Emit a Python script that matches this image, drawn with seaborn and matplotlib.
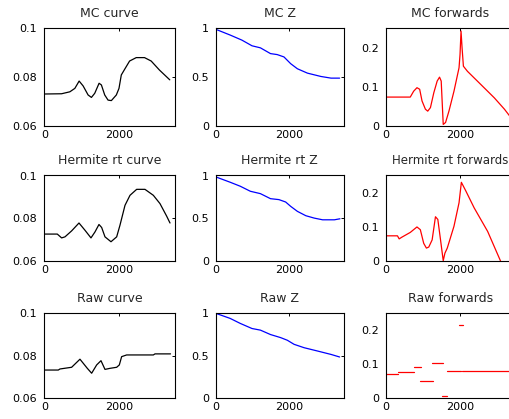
import matplotlib
matplotlib.use("Agg")
import numpy as np
import pandas as pd
import matplotlib.pyplot as plt
import seaborn as sns

# ==========================================
# DATA (dibaca dari gambar referensi)
# ==========================================
mc_curve_x = [0, 462, 684, 818, 933, 1040, 1173, 1262, 1351, 1467, 1529, 1618, 1707, 1796,
              1929, 2000, 2062, 2151, 2284, 2462, 2684, 2862, 3084, 3360]
mc_curve_y = [0.0731, 0.0732, 0.0740, 0.0754, 0.0784, 0.0764, 0.0727, 0.0717, 0.0734, 0.0775,
              0.0768, 0.0727, 0.0706, 0.0704, 0.0727, 0.0754, 0.0809, 0.0832, 0.0866, 0.0880,
              0.0880, 0.0866, 0.0829, 0.0789]

mc_z_x = [0, 394, 715, 990, 1220, 1495, 1678, 1862, 2045, 2228, 2503, 2870, 3146, 3380]
mc_z_y = [0.99, 0.931, 0.879, 0.821, 0.80, 0.741, 0.731, 0.707, 0.638, 0.586, 0.541, 0.507,
          0.49, 0.49]

mc_fwd_x = [0, 664, 755, 845, 918, 982, 1073, 1136, 1209, 1300, 1391, 1455, 1500, 1555, 1618,
            1709, 1845, 1982, 2009, 2036, 2064, 2100, 2209, 2573, 2936, 3209, 3380]
mc_fwd_y = [0.074, 0.074, 0.089, 0.098, 0.094, 0.064, 0.043, 0.038, 0.047, 0.085, 0.115, 0.125,
            0.115, 0.004, 0.009, 0.038, 0.089, 0.149, 0.183, 0.243, 0.200, 0.153, 0.140, 0.106,
            0.072, 0.043, 0.022]

herm_curve_x = [0, 348, 464, 554, 732, 929, 1089, 1250, 1357, 1464, 1536, 1625, 1786, 1938,
                2027, 2161, 2295, 2473, 2696, 2920, 3098, 3277, 3366]
herm_curve_y = [0.0725, 0.0725, 0.0707, 0.0712, 0.0740, 0.0777, 0.0743, 0.0707, 0.0735, 0.0770,
                0.0756, 0.0712, 0.0689, 0.0712, 0.0767, 0.0860, 0.0907, 0.0935, 0.0935, 0.0907,
                0.0868, 0.0809, 0.0777]

herm_z_x = [0, 394, 670, 945, 1220, 1495, 1725, 1908, 2045, 2229, 2459, 2688, 2917, 3238, 3390]
herm_z_y = [0.984, 0.921, 0.874, 0.815, 0.787, 0.728, 0.717, 0.689, 0.638, 0.579, 0.528, 0.50,
            0.48, 0.48, 0.492]

herm_fwd_x = [0, 318, 364, 436, 664, 845, 936, 1027, 1100, 1164, 1255, 1345, 1409, 1482, 1555,
              1600, 1664, 1845, 1982, 2045, 2164, 2391, 2755, 3100, 3380]
herm_fwd_y = [0.073, 0.073, 0.064, 0.069, 0.083, 0.099, 0.091, 0.051, 0.037, 0.040, 0.061, 0.129,
              0.121, 0.061, 0.0, 0.022, 0.037, 0.101, 0.170, 0.230, 0.205, 0.155, 0.086, 0.0,
              -0.07]

raw_curve_x = [0, 375, 420, 732, 955, 1152, 1268, 1402, 1518, 1625, 1759, 1938, 2009, 2071, 2205,
               2920, 2964, 3380]
raw_curve_y = [0.0733, 0.0733, 0.0738, 0.0746, 0.0784, 0.0741, 0.0718, 0.0757, 0.0777, 0.0736,
               0.0741, 0.0746, 0.0757, 0.0796, 0.0804, 0.0804, 0.0809, 0.0809]

raw_z_x = [0, 394, 670, 990, 1220, 1495, 1771, 1954, 2138, 2413, 2780, 3147, 3380]
raw_z_y = [1.0, 0.94, 0.881, 0.821, 0.802, 0.75, 0.714, 0.683, 0.635, 0.595, 0.556, 0.516, 0.486]

# segmen tangga "Raw forwards"
raw_fwd_start = [0, 345, 773, 936, 1254, 1527, 1664, 1982, 2073]
raw_fwd_end = [345, 773, 964, 1282, 1545, 1645, 2027, 2100, 3380]
raw_fwd_val = [0.072, 0.078, 0.092, 0.050, 0.105, 0.008, 0.080, 0.217, 0.080]

x_ticks = [0, 2000]
x_tick_labels = ['0', '2000']
curve_ticks = [0.06, 0.08, 0.1]
curve_tick_labels = ['0.06', '0.08', '0.1']
z_ticks = [0, 0.5, 1]
z_tick_labels = ['0', '0.5', '1']
fwd_ticks = [0, 0.1, 0.2]
fwd_tick_labels = ['0', '0.1', '0.2']

# ==========================================
# STYLE & LAYOUT
# ==========================================
sns.set_style("white")
plt.rcParams['font.family'] = ['DejaVu Sans']

W, H = 510, 419
fig = plt.figure(figsize=(W / 100, H / 100), dpi=100)

col_left = [44.3, 215.7, 385.7]
col_width = [130.7, 128.3, 129.5]
row_top = [28.3, 175.5, 313.3]
row_bottom = [126.0, 260.7, 398.3]
LW = 0.9


def make_ax(r, c):
    return fig.add_axes([col_left[c] / W, 1 - row_bottom[r] / H,
                         col_width[c] / W, (row_bottom[r] - row_top[r]) / H])


def style_ax(ax, title, ylim, yticks, ylabels, title_size=9):
    ax.set_xlim(0, 3500)
    ax.set_ylim(*ylim)
    ax.set_xticks(x_ticks)
    ax.set_xticklabels(x_tick_labels)
    ax.set_yticks(yticks)
    ax.set_yticklabels(ylabels)
    ax.set_xlabel('')
    ax.set_ylabel('')
    ax.tick_params(direction='in', top=True, right=True, length=2.5, width=0.7,
                   labelsize=8, colors='black')
    ax.tick_params(axis='x', pad=3)
    ax.tick_params(axis='y', pad=5)
    ax.set_title(title, fontsize=title_size, pad=8)
    for s in ax.spines.values():
        s.set_visible(True)
        s.set_color('black')
        s.set_linewidth(0.8)
    if ax.get_legend() is not None:
        ax.get_legend().remove()


panels = [
    (0, 0, mc_curve_x, mc_curve_y, 'black', 'MC curve', (0.06, 0.1), curve_ticks, curve_tick_labels),
    (0, 1, mc_z_x, mc_z_y, 'blue', 'MC Z', (0, 1), z_ticks, z_tick_labels),
    (0, 2, mc_fwd_x, mc_fwd_y, 'red', 'MC forwards', (0, 0.25), fwd_ticks, fwd_tick_labels),
    (1, 0, herm_curve_x, herm_curve_y, 'black', 'Hermite rt curve', (0.06, 0.1), curve_ticks, curve_tick_labels),
    (1, 1, herm_z_x, herm_z_y, 'blue', 'Hermite rt Z', (0, 1), z_ticks, z_tick_labels),
    (1, 2, herm_fwd_x, herm_fwd_y, 'red', 'Hermite rt forwards', (0, 0.25), fwd_ticks, fwd_tick_labels),
    (2, 0, raw_curve_x, raw_curve_y, 'black', 'Raw curve', (0.06, 0.1), curve_ticks, curve_tick_labels),
    (2, 1, raw_z_x, raw_z_y, 'blue', 'Raw Z', (0, 1), z_ticks, z_tick_labels),
]

for r, c, xs, ys, col, title, ylim, yt, yl in panels:
    ax = make_ax(r, c)
    sns.lineplot(x=xs, y=ys, ax=ax, color=col, linewidth=LW, estimator=None, sort=False)
    # judul kolom kanan sedikit lebih kecil supaya tidak terpotong
    style_ax(ax, title, ylim, yt, yl, title_size=8.5 if c == 2 and r == 1 else 9)

# Raw forwards: potongan horizontal terpisah
ax = make_ax(2, 2)
for s, e, v in zip(raw_fwd_start, raw_fwd_end, raw_fwd_val):
    sns.lineplot(x=[s, e], y=[v, v], ax=ax, color='red', linewidth=LW, estimator=None)
style_ax(ax, 'Raw forwards', (0, 0.25), fwd_ticks, fwd_tick_labels)

fig.savefig('out.png', dpi=100)
